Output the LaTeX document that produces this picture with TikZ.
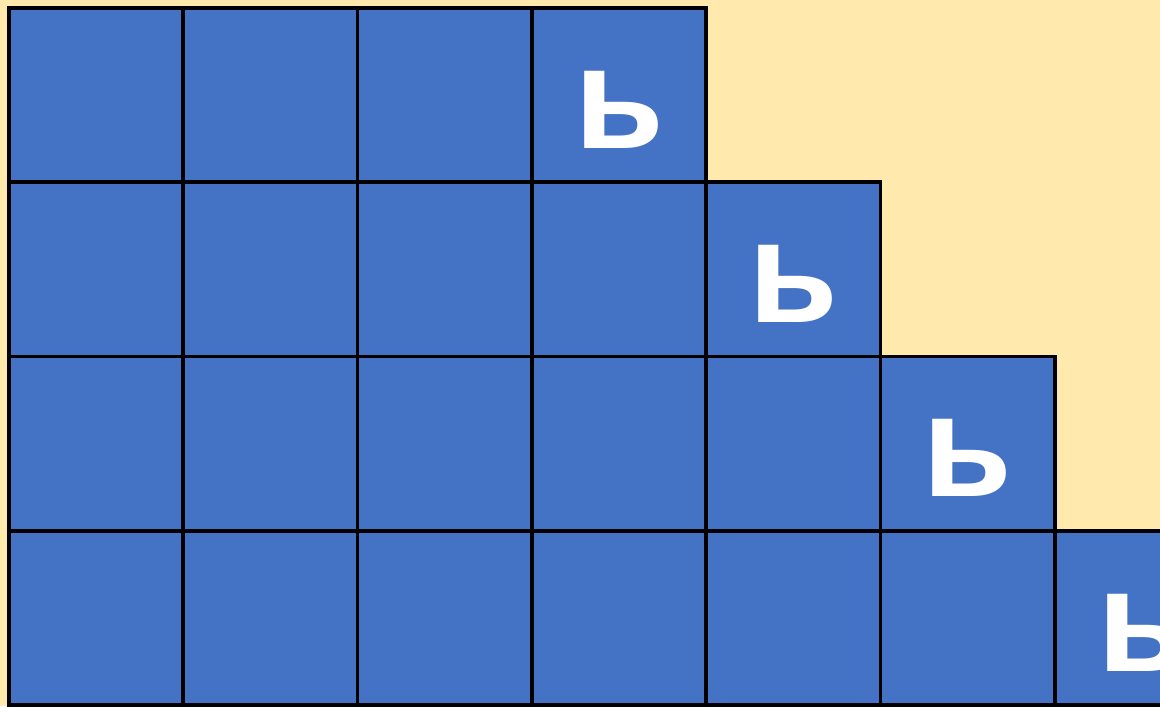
\documentclass[tikz,border=0pt]{standalone}
\usepackage{fontspec}
\setmainfont{Liberation Sans}
\definecolor{bgyellow}{HTML}{FFE9AD}
\definecolor{cellblue}{HTML}{4472C4}
\begin{document}
\begin{tikzpicture}[x=0.025cm, y=-0.025cm,
          cell/.style={draw, fill=cellblue, line width=2.6pt, minimum size=4.3575cm,
            inner sep=0pt, outer sep=0pt},
          softsign/.style={anchor=base, text=white, inner sep=0pt,
            font=\bfseries\fontsize{104pt}{104pt}\selectfont}]
        \fill[bgyellow] (0,0) rectangle (1160,706);
        \useasboundingbox (0,0) rectangle (1160,706);
        \clip (0,0) rectangle (1160,706);
        % staircase of squares, row r holds r+3 cells
        \foreach \r in {1,...,4} {
          \pgfmathtruncatemacro\n{\r+3}
          \foreach \c in {1,...,\n}
            \node[cell] (c-\r-\c) at ({96.15+174.3*(\c-1)}, {95.15+174.3*(\r-1)}) {};
          \node[softsign] (s-\r) at ([yshift=0.85cm]c-\r-\n.south) {ь};
        }
      \end{tikzpicture}
\end{document}
